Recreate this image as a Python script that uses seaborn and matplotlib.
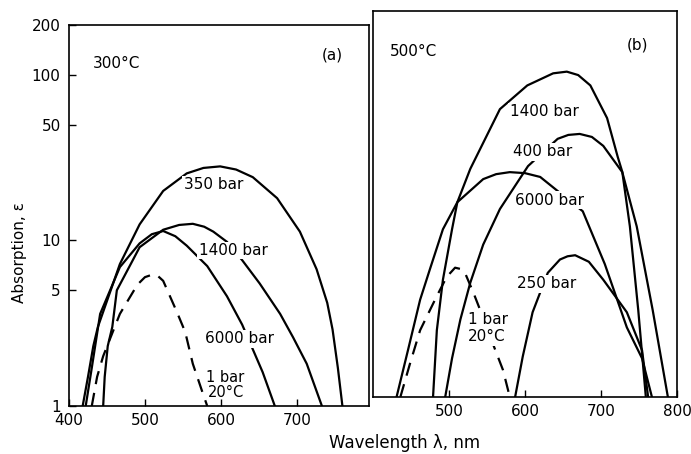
import numpy as np
import seaborn as sns
import matplotlib
matplotlib.use('Agg')
import matplotlib.pyplot as plt
from matplotlib.ticker import NullLocator

# ---- panel (a): 300 C ----
a_wl_350 = [418, 425, 432, 438, 467, 493, 524, 555, 577, 599, 620, 642, 674, 704, 726, 740, 747, 754, 760]
a_ab_350 = [1.0, 1.5, 2.3, 3.0, 7.2, 12.5, 19.9, 25.4, 27.4, 28.0, 26.8, 24.1, 18.0, 11.3, 6.7, 4.2, 2.9, 1.7, 1.0]

a_wl_1400 = [445, 447, 451, 457, 463, 484, 493, 524, 545, 563, 578, 590, 608, 628, 651, 678, 695, 713, 733]
a_ab_1400 = [1.0, 1.5, 2.3, 3.0, 5.0, 7.6, 9.1, 11.6, 12.4, 12.6, 12.1, 11.3, 9.8, 7.6, 5.5, 3.6, 2.6, 1.8, 1.0]

a_wl_6000 = [422, 430, 441, 467, 493, 509, 524, 540, 555, 582, 608, 628, 642, 655, 671]
a_ab_6000 = [1.0, 1.7, 3.6, 6.9, 9.6, 10.9, 11.4, 10.6, 9.3, 7.0, 4.6, 3.1, 2.2, 1.6, 1.0]

a_wl_1bar = [430, 437, 445, 467, 490, 500, 509, 517, 524, 542, 553, 563, 576, 582]
a_ab_1bar = [1.0, 1.5, 2.0, 3.6, 5.4, 6.0, 6.2, 6.1, 5.7, 3.7, 2.8, 1.8, 1.2, 1.0]

# ---- panel (b): 500 C ----
b_wl_1400 = [479, 484, 492, 504, 511, 528, 567, 603, 637, 655, 670, 686, 708, 722, 728, 738, 749, 759]
b_ab_1400 = [1.0, 2.5, 5.0, 10.0, 14.5, 22.9, 52, 72, 85, 87, 83, 72, 46, 27, 22, 10.4, 3.3, 1.0]

b_wl_400 = [495, 504, 515, 528, 545, 567, 604, 643, 657, 672, 688, 703, 728, 747, 768, 788]
b_ab_400 = [1.0, 1.7, 2.9, 4.8, 8.1, 13.2, 23.8, 34.6, 36.5, 37.0, 35.5, 31.4, 21.9, 10.4, 3.3, 1.0]

b_wl_6000 = [431, 446, 462, 475, 492, 511, 545, 562, 580, 600, 620, 643, 676, 705, 734, 754, 767]
b_ab_6000 = [1.0, 1.9, 3.8, 5.8, 10.0, 14.5, 19.9, 21.3, 21.9, 21.6, 20.5, 16.9, 12.8, 6.2, 2.6, 1.7, 1.0]

b_wl_250 = [587, 597, 610, 620, 630, 646, 656, 666, 684, 703, 734, 754, 762]
b_ab_250 = [1.0, 1.74, 3.2, 4.2, 5.5, 6.6, 6.9, 7.0, 6.4, 5.0, 3.2, 1.9, 1.0]

b_wl_1bar = [436, 449, 462, 484, 497, 508, 515, 521, 532, 541, 561, 571, 580]
b_ab_1bar = [1.0, 1.6, 2.5, 4.0, 5.2, 5.9, 5.8, 5.5, 4.2, 3.3, 1.9, 1.45, 1.0]

y_ticks = [1, 5, 10, 50, 100, 200]
a_xticks = [400, 500, 600, 700]
b_xticks = [500, 600, 700, 800]

sns.set_style('ticks')
plt.rcParams['font.family'] = ['DejaVu Sans']
plt.rcParams['font.size'] = 11
plt.rcParams['text.color'] = 'black'
plt.rcParams['xtick.color'] = 'black'
plt.rcParams['ytick.color'] = 'black'
plt.rcParams['axes.edgecolor'] = 'black'

fig = plt.figure(figsize=(6.91, 4.54), dpi=100)
W, H = 691, 454
# axes boxes from pixel positions
ax_a = fig.add_axes([69 / W, 1 - 406 / H, 300 / W, 381 / H])
ax_b = fig.add_axes([373 / W, 1 - 397 / H, 304 / W, 386 / H])


def draw(ax, wl, ab, dashed=False):
    ls = (0, (6, 4)) if dashed else '-'
    sns.lineplot(x=wl, y=ab, ax=ax, color='black', linewidth=1.6,
                 linestyle=ls, estimator=None, sort=False)


draw(ax_a, a_wl_350, a_ab_350)
draw(ax_a, a_wl_1400, a_ab_1400)
draw(ax_a, a_wl_6000, a_ab_6000)
draw(ax_a, a_wl_1bar, a_ab_1bar, dashed=True)

draw(ax_b, b_wl_1400, b_ab_1400)
draw(ax_b, b_wl_400, b_ab_400)
draw(ax_b, b_wl_6000, b_ab_6000)
draw(ax_b, b_wl_250, b_ab_250)
draw(ax_b, b_wl_1bar, b_ab_1bar, dashed=True)

for ax in (ax_a, ax_b):
    ax.set_yscale('log')
    ax.set_ylim(1, 200)
    ax.yaxis.set_minor_locator(NullLocator())
    ax.xaxis.set_minor_locator(NullLocator())
    ax.set_xlabel('')
    ax.set_ylabel('')
    for s in ax.spines.values():
        s.set_linewidth(1.2)
        s.set_visible(True)
    ax.tick_params(direction='in', length=5, width=1, pad=5, labelsize=11)

ax_a.set_xlim(400, 795)
ax_a.set_xticks(a_xticks)
ax_a.set_xticklabels([str(t) for t in a_xticks])
ax_a.set_yticks(y_ticks)
ax_a.set_yticklabels([str(t) for t in y_ticks])
ax_a.tick_params(axis='y', pad=6)

ax_b.set_xlim(400, 800)
ax_b.set_xticks(b_xticks)
ax_b.set_xticklabels([str(t) for t in b_xticks])
ax_b.set_yticks(y_ticks)
ax_b.tick_params(axis='y', left=False, labelleft=False)

box = dict(facecolor='white', edgecolor='none', pad=1)
# curve labels, panel (a)
ax_a.text(590, 21.8, '350 bar', ha='center', va='center', bbox=box)
ax_a.text(616, 8.7, '1400 bar', ha='center', va='center', bbox=box)
ax_a.text(625, 2.55, '6000 bar', ha='center', va='center', bbox=box)
ax_a.text(580, 1.49, '1 bar', ha='left', va='center', fontsize=10.5)
ax_a.text(583, 1.2, '20°C', ha='left', va='center', fontsize=10.5)
ax_a.text(0.08, 0.90, '300°C', transform=ax_a.transAxes, ha='left', va='center')
ax_a.text(0.843, 0.921, '(a)', transform=ax_a.transAxes, ha='left', va='center')

# curve labels, panel (b)
ax_b.text(625, 50, '1400 bar', ha='center', va='center', bbox=box)
ax_b.text(623, 28.9, '400 bar', ha='center', va='center', bbox=box)
ax_b.text(632, 14.9, '6000 bar', ha='center', va='center', bbox=box)
ax_b.text(628, 4.72, '250 bar', ha='center', va='center', bbox=box)
ax_b.text(525, 2.88, '1 bar', ha='left', va='center', bbox=box)
ax_b.text(525, 2.28, '20°C', ha='left', va='center', bbox=box)
ax_b.text(0.056, 0.894, '500°C', transform=ax_b.transAxes, ha='left', va='center')
ax_b.text(0.836, 0.912, '(b)', transform=ax_b.transAxes, ha='left', va='center')

fig.text(20 / W, 1 - 253 / H, 'Absorption, ε', rotation=90, ha='center', va='center', fontsize=11)
fig.text(405 / W, 1 - 443 / H, 'Wavelength λ, nm', ha='center', va='center', fontsize=12)

fig.savefig('out.png', dpi=100)
